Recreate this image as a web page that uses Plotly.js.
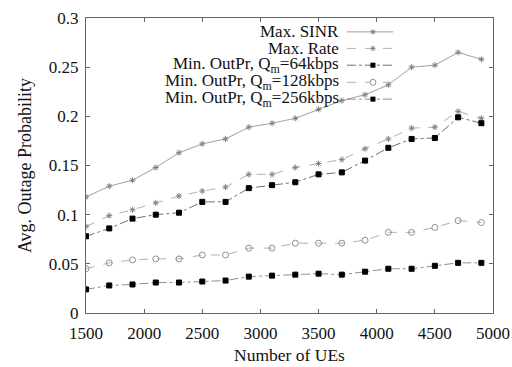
<!DOCTYPE html>
<html><head><meta charset="utf-8">
<script src="https://cdn.plot.ly/plotly-3.0.1.min.js"></script>
<style>html,body{margin:0;padding:0;background:#fff}#c{width:512px;height:367px}</style>
</head><body><div id="c"></div>
<script>
const numUEs = [1500,1700,1900,2100,2300,2500,2700,2900,3100,3300,3500,3700,3900,4100,4300,4500,4700,4900];
const maxSINR = [0.118,0.129,0.135,0.148,0.163,0.172,0.177,0.189,0.193,0.198,0.207,0.216,0.222,0.232,0.250,0.252,0.265,0.258];
const maxRate = [0.088,0.099,0.105,0.112,0.119,0.124,0.128,0.141,0.141,0.148,0.152,0.156,0.167,0.177,0.188,0.189,0.205,0.198];
const q64 = [0.078,0.086,0.096,0.100,0.102,0.113,0.113,0.127,0.130,0.133,0.141,0.143,0.155,0.168,0.177,0.178,0.199,0.193];
const q128 = [0.045,0.051,0.054,0.055,0.055,0.059,0.059,0.066,0.066,0.071,0.071,0.071,0.074,0.082,0.082,0.087,0.094,0.092];
const q256 = [0.024,0.028,0.029,0.031,0.031,0.032,0.033,0.037,0.038,0.039,0.040,0.039,0.042,0.045,0.045,0.048,0.051,0.051];
const seriesNames = ['Max. SINR','Max. Rate','Min. OutPr, Q<sub>m</sub>=64kbps','Min. OutPr, Q<sub>m</sub>=128kbps','Min. OutPr, Q<sub>m</sub>=256kbps'];
const yTicks = [0,0.05,0.1,0.15,0.2,0.25,0.3];
const yTickText = ['0','0.05','0.1','0.15','0.2','0.25','0.3'];
const xTicks = [1500,2000,2500,3000,3500,4000,4500,5000];

const FONT = "Liberation Serif";
const styles = [
  {lc:'#a0a0a0', dash:'solid', sym:'asterisk-open', mc:'#808080', ms:5},
  {lc:'#b0b0b0', dash:'dash', sym:'asterisk-open', mc:'#808080', ms:5},
  {lc:'#707070', dash:'dashdot', sym:'square', mc:'#000', ms:5},
  {lc:'#b0b0b0', dash:'dash', sym:'circle-open', mc:'#909090', ms:6},
  {lc:'#909090', dash:'dashdot', sym:'square', mc:'#000', ms:5}
];
const ys = [maxSINR, maxRate, q64, q128, q256];
const traces = ys.map((y,i)=>({
  x:numUEs, y:y, type:'scatter', mode:'lines+markers', name:seriesNames[i], showlegend:false,
  line:{color:styles[i].lc, width:1, dash:styles[i].dash},
  marker:{symbol:styles[i].sym, size:styles[i].ms, color:styles[i].mc, line:{color:styles[i].mc, width:1}}
}));

// legend: right-aligned text with the sample to its right (as in the reference)
const legY = [0.953,0.897,0.840,0.782,0.725];
const annotations = [], shapes = [];
seriesNames.forEach((n,i)=>{
  annotations.push({xref:'paper', yref:'paper', x:0.626, y:legY[i], xanchor:'right', yanchor:'middle',
    text:n, showarrow:false, font:{family:FONT, size:17, color:'#111'}});
  shapes.push({type:'line', xref:'paper', yref:'paper', x0:0.641, x1:0.755, y0:legY[i], y1:legY[i],
    line:{color:styles[i].lc, width:1, dash:styles[i].dash}});
  const common = {xref:'paper', yref:'paper', xsizemode:'pixel', ysizemode:'pixel', xanchor:0.705, yanchor:legY[i]};
  if (styles[i].sym==='square') {
    shapes.push(Object.assign({type:'rect', x0:-2.5, x1:2.5, y0:-2.5, y1:2.5, fillcolor:'#000', line:{width:0}}, common));
  } else if (styles[i].sym==='circle-open') {
    shapes.push(Object.assign({type:'circle', x0:-3, x1:3, y0:-3, y1:3, fillcolor:'#fff', line:{color:'#909090', width:1}}, common));
  } else {
    shapes.push(Object.assign({type:'path', path:'M-2.5,0L2.5,0M0,-2.5L0,2.5M-2,-2L2,2M-2,2L2,-2', line:{color:'#808080', width:1}}, common));
  }
});

const axisCommon = {showgrid:false, zeroline:false, showline:true, linecolor:'#666', linewidth:1, mirror:'allticks',
  ticks:'inside', ticklen:4, tickcolor:'#666', tickfont:{family:FONT, size:17, color:'#111'}};

const layout = {
  width:512, height:367, paper_bgcolor:'#fff', plot_bgcolor:'#fff',
  margin:{l:86, r:19, t:18, b:54},
  showlegend:false,
  font:{family:FONT},
  xaxis:Object.assign({}, axisCommon, {range:[1500,5000], tickvals:xTicks, ticktext:xTicks.map(String), ticklabelstandoff:5,
    title:{text:'Number of UEs', font:{family:FONT, size:17.5, color:'#111'}, standoff:6}}),
  yaxis:Object.assign({}, axisCommon, {range:[0,0.3], tickvals:yTicks, ticktext:yTickText, ticklabelstandoff:3,
    title:{text:'Avg. Outage Probability', font:{family:FONT, size:18, color:'#111'}, standoff:12}}),
  annotations:annotations, shapes:shapes
};
Plotly.newPlot('c', traces, layout, {staticPlot:true});
</script></body></html>
